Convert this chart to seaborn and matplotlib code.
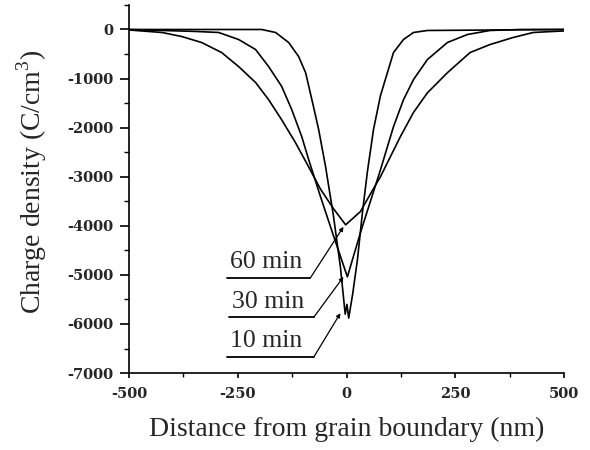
import matplotlib
matplotlib.use("Agg")
import matplotlib.pyplot as plt
from matplotlib.ticker import MultipleLocator
import pandas as pd
import seaborn as sns

# distance from grain boundary (nm) and charge density (C/cm^3)
x10 = [-500, -195, -163, -133, -110, -94, -78, -64, -48, -30, -14, -3, 1, 5, 14, 25, 37, 48, 62, 78, 94,
       108, 131, 154, 186, 500]
y10 = [0, 0, -61, -265, -551, -880, -1490, -2040, -2800, -3800, -4840, -5800, -5600, -5880, -5400, -4700,
       -3700, -2900, -2040, -1350, -880, -470, -204, -61, -20, 0]

x30 = [-500, -346, -294, -248, -209, -179, -149, -126, -103, -87, -60, -30, 2, 32, 55, 78, 108, 131, 154,
       186, 232, 278, 330, 400, 500]
y30 = [0, -40, -61, -204, -408, -755, -1160, -1630, -2180, -2650, -3400, -4200, -5040, -4140, -3500, -2860,
       -1980, -1430, -1020, -612, -265, -102, -20, 0, 0]

x60 = [-500, -424, -379, -333, -287, -248, -209, -179, -149, -117, -87, -60, -30, -2, 32, 55, 78, 124, 154,
       186, 232, 284, 330, 383, 429, 475, 500]
y60 = [-10, -61, -143, -265, -470, -755, -1080, -1430, -1840, -2310, -2800, -3250, -3650, -3980, -3710, -3350,
       -3000, -2180, -1690, -1290, -880, -470, -306, -163, -61, -40, -30]

labels = ['60 min', '30 min', '10 min']
# label underline (x0, x1, y) and leader tip (x, y)
label_lines = [(-274, -83, -5060), (-270, -75, -5860), (-274, -75, -6670)]
label_tips = [(-7, -4020), (-7, -5040), (-14, -5780)]

df = pd.concat([
    pd.DataFrame({'x': x60, 'y': y60, 'time': '60 min'}),
    pd.DataFrame({'x': x30, 'y': y30, 'time': '30 min'}),
    pd.DataFrame({'x': x10, 'y': y10, 'time': '10 min'}),
])

sns.set_style('ticks')
plt.rcParams['font.family'] = ['Liberation Serif', 'DejaVu Serif']
plt.rcParams['axes.unicode_minus'] = False
plt.rcParams['mathtext.fontset'] = 'custom'
plt.rcParams['mathtext.rm'] = 'Liberation Serif'

fig = plt.figure(figsize=(5.9, 4.5), dpi=100)
ax = fig.add_axes([0.2186, 0.171, 0.7374, 0.818])

sns.lineplot(data=df, x='x', y='y', units='time', estimator=None, sort=False,
             color='black', linewidth=1.2, legend=False, ax=ax)

for lab, (x0, x1, yl), tip in zip(labels, label_lines, label_tips):
    ax.plot([x0, x1], [yl, yl], color='black', linewidth=1.3)
    ax.text(x0 + 6, yl + 90, lab, fontsize=18.5, ha='left', va='bottom')
    ax.annotate('', xy=tip, xytext=(x1, yl),
                arrowprops=dict(arrowstyle='-|>', color='black', lw=0.9,
                                mutation_scale=6, shrinkA=0, shrinkB=0))

ax.set_xlim(-500, 500)
ax.set_ylim(-7000, 500)
ax.xaxis.set_major_locator(MultipleLocator(250))
ax.xaxis.set_minor_locator(MultipleLocator(125))
ax.yaxis.set_major_locator(MultipleLocator(1000))
ax.yaxis.set_minor_locator(MultipleLocator(500))
ax.tick_params(axis='x', which='major', length=3.8, width=1.2, pad=6, color='black')
ax.tick_params(axis='x', which='minor', length=3, width=1.0, color='black')
ax.tick_params(axis='y', which='major', length=6.5, width=1.2, pad=5, color='black')
ax.tick_params(axis='y', which='minor', length=3.8, width=1.0, color='black')
for lbl in ax.get_xticklabels() + ax.get_yticklabels():
    lbl.set_fontfamily('DejaVu Serif')
    lbl.set_fontweight('bold')
    lbl.set_fontsize(10.5)

ax.set_xlabel('Distance from grain boundary (nm)', fontsize=20, labelpad=12)
ax.set_ylabel(r'Charge density (C/cm$^{\mathregular{3}}$)', fontsize=20)
ax.yaxis.set_label_coords(-0.183, 0.52)
sns.despine(ax=ax)
for s in ['left', 'bottom']:
    ax.spines[s].set_linewidth(1.2)
    ax.spines[s].set_color('black')

fig.savefig('out.png', dpi=100)
